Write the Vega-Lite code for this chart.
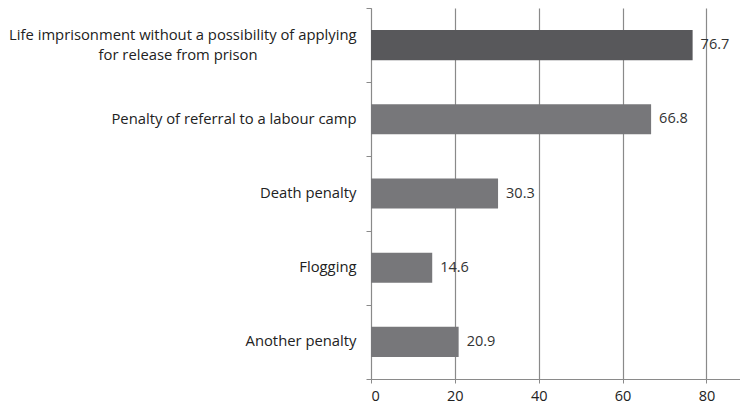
{
  "$schema": "https://vega.github.io/schema/vega-lite/v6.json",
  "width": 369,
  "height": 371,
  "autosize": {"type": "none"},
  "padding": {"left": 371, "top": 8, "right": 0, "bottom": 29},
  "background": "white",
  "config": {"view": {"stroke": null}, "font": "Open Sans"},
  "data": {
    "values": [
      {"penalty": "Life imprisonment without a possibility of applying for release from prison", "value": 76.7},
      {"penalty": "Penalty of referral to a labour camp", "value": 66.8},
      {"penalty": "Death penalty", "value": 30.3},
      {"penalty": "Flogging", "value": 14.6},
      {"penalty": "Another penalty", "value": 20.9}
    ]
  },
  "encoding": {
    "y": {
      "field": "penalty",
      "type": "nominal",
      "sort": null,
      "scale": {"paddingInner": 0, "paddingOuter": 0},
      "axis": {
        "title": null,
        "tickBand": "extent",
        "tickSize": 5,
        "tickColor": "#8a8a8a",
        "domainColor": "#8a8a8a",
        "labelFontSize": 14.8,
        "labelColor": "#222222",
        "labelPadding": 10,
        "labelLimit": 400,
        "labelLineHeight": 20,
        "labelOffset": {"condition": {"test": "indexof(datum.label, 'Life imprisonment') == 0", "value": -10}, "value": 0},
        "labelExpr": "indexof(datum.label, 'Life imprisonment') == 0 ? ['Life imprisonment without a possibility of applying', 'for release from prison\u2800\u2800\u2800\u2800\u2800\u2800\u2800\u2800\u2800'] : datum.label"
      }
    },
    "x": {
      "field": "value",
      "type": "quantitative",
      "scale": {"domain": [0, 88], "nice": false},
      "axis": {
        "title": null,
        "values": [0, 20, 40, 60, 80],
        "grid": true,
        "gridColor": "#8a8a8a",
        "gridWidth": 1.2,
        "tickSize": 4,
        "tickColor": "#8a8a8a",
        "domainColor": "#8a8a8a",
        "labelFontSize": 14.5,
        "labelColor": "#222222",
        "labelPadding": 6
      }
    }
  },
  "layer": [
    {
      "mark": {"type": "bar", "height": {"band": 0.405}},
      "encoding": {
        "color": {
          "condition": {"test": "indexof(datum.penalty, 'Life imprisonment') == 0", "value": "#58585b"},
          "value": "#77777a"
        }
      }
    },
    {
      "mark": {"type": "text", "align": "left", "baseline": "middle", "dx": 8, "fontSize": 14.5, "color": "#333333"},
      "encoding": {
        "text": {"field": "value", "type": "quantitative", "format": ".1f"}
      }
    }
  ]
}
